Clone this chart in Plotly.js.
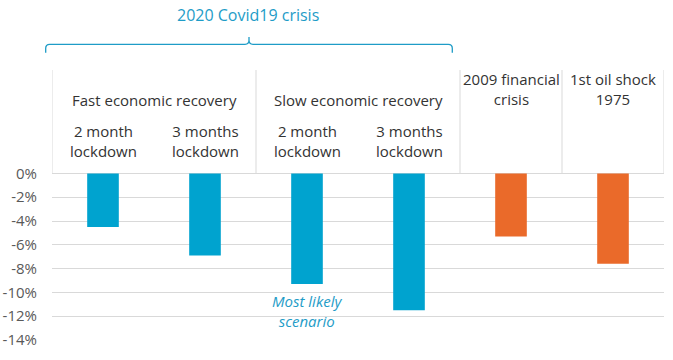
<!DOCTYPE html>
<html>
<head>
<meta charset="utf-8">
<script src="https://cdn.plot.ly/plotly-3.0.1.min.js"></script>
<style>html,body{margin:0;padding:0;background:#fff;}#chart{width:673px;height:360px;}</style>
</head>
<body>
<div id="chart"></div>
<script>
// ---- data ----
const categories = ["Fast – 2 month lockdown", "Fast – 3 months lockdown", "Slow – 2 month lockdown", "Slow – 3 months lockdown", "2009 financial crisis", "1st oil shock 1975"];
const values = [-4.5, -6.9, -9.3, -11.5, -5.3, -7.6];
const groups = ["covid", "covid", "covid", "covid", "history", "history"];
const headerLabels = ["2 month<br>lockdown", "3 months<br>lockdown", "2 month<br>lockdown", "3 months<br>lockdown", "2009 financial<br>crisis", "1st oil shock<br>1975"];
const scenarioLabels = ["Fast economic recovery", "Slow economic recovery"];
const tickValues = [0, -2, -4, -6, -8, -10, -12, -14];
const tickLabels = ["0%", "-2%", "-4%", "-6%", "-8%", "-10%", "-12%", "-14%"];
const crisisTitle = "2020 Covid19 crisis";
const noteText = "Most likely<br>scenario";

// ---- styling ----
const BLUE = "#00a3cf", ORANGE = "#ea6a2a", TEAL = "#1e9cc7";
const GRID = "#d9d9d9", TXT = "#333333";
const colorOf = {covid: BLUE, history: ORANGE};
const FONT = "Open Sans, sans-serif";

const YMIN = -14, PXPER = 11.9, PLOT_H = 270;
const YMAX = YMIN + PLOT_H / PXPER;
const y0paper = (0 - YMIN) / (YMAX - YMIN);
function paperFromPx(py) { return (340 - py) / PLOT_H; }

const trace = {
  type: "bar",
  x: categories,
  y: values,
  marker: {color: groups.map(g => colorOf[g])},
  hoverinfo: "x+y"
};

const annotations = [];
headerLabels.forEach((t, i) => {
  const isCovid = groups[i] === "covid";
  annotations.push({
    x: i, xref: "x", y: paperFromPx(isCovid ? 141 : 89), yref: "paper",
    text: t, showarrow: false, xanchor: "center", yanchor: "middle",
    font: {family: FONT, size: 15, color: TXT}
  });
});
scenarioLabels.forEach((t, k) => {
  annotations.push({
    x: 2 * k + 0.5, xref: "x", y: paperFromPx(100), yref: "paper",
    text: t, showarrow: false, xanchor: "center", yanchor: "middle",
    font: {family: FONT, size: 15, color: TXT}
  });
});
annotations.push({
  x: 1.42, xref: "x", y: paperFromPx(15), yref: "paper",
  text: crisisTitle, showarrow: false, xanchor: "center", yanchor: "middle",
  font: {family: FONT, size: 16, color: TEAL}
});
annotations.push({
  x: 2, xref: "x", y: paperFromPx(311), yref: "paper",
  text: "<i>" + noteText + "</i>", showarrow: false, xanchor: "center", yanchor: "middle",
  font: {family: FONT, size: 15, color: TEAL}
});

const shapes = [];
[-0.5, 1.5, 3.5, 4.5, 5.5].forEach(xv => {
  shapes.push({type: "line", xref: "x", yref: "paper", x0: xv, x1: xv, y0: y0paper, y1: 1,
    line: {color: GRID, width: 1}});
});
// bracket
function px2x(px) { return (px - 52) / 612; }
const L = px2x(45.7), R = px2x(452.3), C = px2x(249);
const yH = paperFromPx(44.3), yE = paperFromPx(52.7), yT = paperFromPx(37);
const rx = 4 / 612, ry = 4 / PLOT_H;
const path = `M ${L},${yE} L ${L},${yH - ry} Q ${L},${yH} ${L + rx},${yH} L ${C - rx},${yH} Q ${C},${yH} ${C},${yH + ry} L ${C},${yT} M ${C},${yH + ry} Q ${C},${yH} ${C + rx},${yH} L ${R - rx},${yH} Q ${R},${yH} ${R},${yH - ry} L ${R},${yE}`;
shapes.push({type: "path", xref: "paper", yref: "paper", path: path, line: {color: TEAL, width: 1.3}});

const layout = {
  width: 673, height: 360,
  margin: {l: 52, r: 9, t: 70, b: 20},
  paper_bgcolor: "#fff", plot_bgcolor: "#fff",
  showlegend: false,
  bargap: 0.69,
  font: {family: FONT, color: TXT},
  xaxis: {type: "category", showticklabels: false, showgrid: false, zeroline: false, showline: false,
    range: [-0.5, 5.5], fixedrange: true},
  yaxis: {range: [YMIN, YMAX], tickvals: tickValues, ticktext: tickLabels, showgrid: true,
    gridcolor: GRID, gridwidth: 1, zeroline: false, showline: false, ticks: "",
    ticklabelstandoff: 14, tickfont: {family: FONT, size: 15, color: "#595959"}, fixedrange: true},
  annotations: annotations,
  shapes: shapes
};

Plotly.newPlot("chart", [trace], layout, {displayModeBar: false, staticPlot: true});
</script>
</body>
</html>
